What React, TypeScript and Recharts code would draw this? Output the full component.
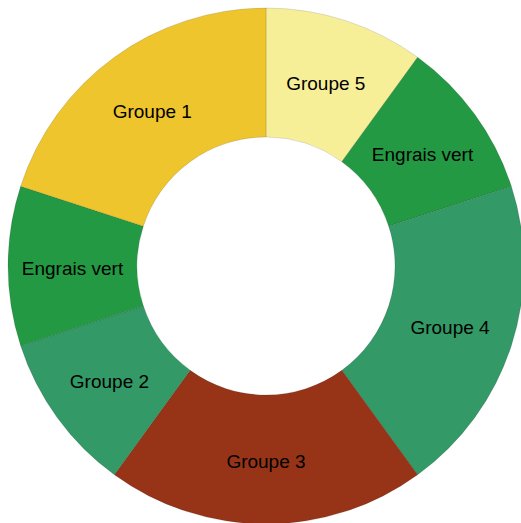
import { PieChart, Pie, Cell } from 'recharts'

const categories = ['Groupe 5', 'Engrais vert', 'Groupe 4', 'Groupe 3', 'Groupe 2', 'Engrais vert', 'Groupe 1']
const values = [10, 10, 20, 20, 10, 10, 20]
const colors = ['#F7EF98', '#239944', '#339966', '#973418', '#339966', '#239944', '#EFC52D']

const data = categories.map((name, i) => ({ name, value: values[i] }))

const RAD = Math.PI / 180

function renderLabel(props: any) {
  const { cx, cy, midAngle, innerRadius, outerRadius, index } = props
  const r = (innerRadius + outerRadius) / 2
  const x = cx + r * Math.cos(-midAngle * RAD)
  const y = cy + r * Math.sin(-midAngle * RAD) + 2
  return (
    <text
      x={x}
      y={y}
      textAnchor="middle"
      dominantBaseline="central"
      fill="#000"
      fontSize={19}
      fontFamily="'Liberation Sans', Arial, sans-serif"
    >
      {categories[index]}
    </text>
  )
}

export default function App() {
  return (
    <div style={{ position: 'fixed', top: 0, left: 0, width: 521, height: 523, overflow: 'hidden', background: '#fff' }}>
      <PieChart width={521} height={523} margin={{ top: 0, right: 0, bottom: 0, left: 0 }}>
        <Pie
          data={data}
          dataKey="value"
          nameKey="name"
          cx={266}
          cy={266}
          innerRadius={129}
          outerRadius={258}
          startAngle={90}
          endAngle={-270}
          label={renderLabel}
          labelLine={false}
          stroke="rgba(0,0,0,0.12)"
          strokeWidth={1}
          isAnimationActive={false}
        >
          {data.map((d, i) => (
            <Cell key={i} fill={colors[i]} />
          ))}
        </Pie>
      </PieChart>
    </div>
  )
}
